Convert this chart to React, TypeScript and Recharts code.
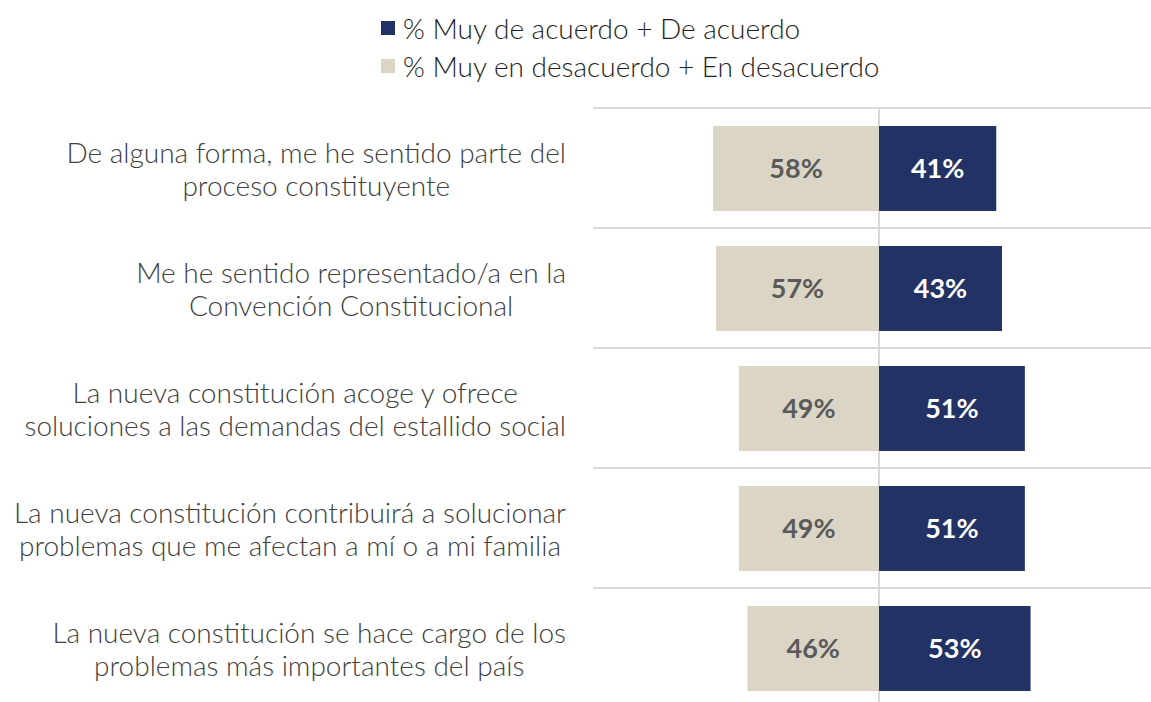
import React from 'react';
import { BarChart, Bar, XAxis, YAxis, LabelList, Legend, CartesianGrid } from 'recharts';

// Statements (two lines each, centered block, right-aligned)
const CATEGORIES = [
  'De alguna forma, me he sentido parte del\nproceso constituyente',
  'Me he sentido representado/a en la\nConvención Constitucional',
  'La nueva constitución acoge y ofrece\nsoluciones a las demandas del estallido social',
  'La nueva constitución contribuirá a solucionar\nproblemas que me afectan a mí o a mi familia',
  'La nueva constitución se hace cargo de los\nproblemas más importantes del país',
];

// % Muy de acuerdo + De acuerdo
const AGREE = [41, 43, 51, 51, 53];
// % Muy en desacuerdo + En desacuerdo
const DISAGREE = [58, 57, 49, 49, 46];

const X_DOMAIN: [number, number] = [-100, 100];

const NAVY = '#233264';
const BEIGE = '#DAD5C4';
const GRID = '#D9D9D9';
const FONT = 'Lato, "Noto Sans", sans-serif';

const data = CATEGORIES.map((name, i) => ({
  name,
  agree: AGREE[i],
  disagree: -DISAGREE[i],
}));

let ctx: CanvasRenderingContext2D | null = null;
const measure = (text: string, font: string) => {
  if (!ctx) ctx = document.createElement('canvas').getContext('2d');
  if (!ctx) return text.length * 12;
  ctx.font = font;
  return ctx.measureText(text).width;
};

const CategoryTick = ({ x, y, payload }: { x: number; y: number; payload: { value: string } }) => {
  const lines = String(payload.value).split('\n');
  const font = `300 28px ${FONT}`;
  const maxW = Math.max(...lines.map((l) => measure(l, font)));
  const cx = x - maxW / 2;
  const lineH = 33;
  const startY = y - ((lines.length - 1) * lineH) / 2;
  return (
    <text textAnchor="middle" fill="#404040" fontSize={28} fontWeight={300} fontFamily={FONT}>
      {lines.map((l, i) => (
        <tspan key={i} x={cx} y={startY + i * lineH} dominantBaseline="central">
          {l}
        </tspan>
      ))}
    </text>
  );
};

const renderLegend = (props: any) => {
  const items = props.payload || [];
  return (
    <div style={{ fontFamily: FONT, fontSize: 28, fontWeight: 300, color: '#1f1f1f' }}>
      {items.map((entry: any, index: number) => (
        <div key={`legend-${index}`} style={{ display: 'flex', alignItems: 'center', height: 38 }}>
          <span style={{ width: 14, height: 14, backgroundColor: entry.color, marginRight: 8, flexShrink: 0 }} />
          <span>{entry.value}</span>
        </div>
      ))}
    </div>
  );
};

// separator lines between rows, taken from the plot box
const rowBoundaries = ({ offset }: any) => {
  const n = CATEGORIES.length;
  return Array.from({ length: n + 1 }, (_, i) => offset.top + (offset.height * i) / n);
};

// center line at zero
const zeroLine = ({ xAxis, offset }: any) => {
  if (xAxis && typeof xAxis.scale === 'function') return [xAxis.scale(0)];
  const [lo, hi] = X_DOMAIN;
  return [offset.left + (offset.width * (0 - lo)) / (hi - lo)];
};

export default function App() {
  return (
    <div
      style={{
        position: 'absolute',
        left: 0,
        top: 0,
        width: 1151,
        height: 702,
        overflow: 'hidden',
        background: '#fff',
      }}
    >
      <BarChart
        width={1170}
        height={720}
        data={data}
        layout="vertical"
        stackOffset="sign"
        barSize={85}
        margin={{ top: 108, right: 5, left: 0, bottom: 12 }}
      >
        <CartesianGrid
          stroke={GRID}
          strokeWidth={2}
          horizontalCoordinatesGenerator={rowBoundaries}
          verticalCoordinatesGenerator={zeroLine}
        />
        <XAxis type="number" domain={X_DOMAIN} hide />
        <YAxis
          type="category"
          dataKey="name"
          width={593}
          axisLine={false}
          tickLine={false}
          tickSize={0}
          tickMargin={27}
          tick={CategoryTick as any}
          interval={0}
        />
        <Legend
          layout="vertical"
          align="center"
          verticalAlign="middle"
          content={renderLegend}
          wrapperStyle={{ top: 9, left: 381, width: 700 }}
        />
        <Bar
          dataKey="agree"
          name="% Muy de acuerdo + De acuerdo"
          stackId="s"
          fill={NAVY}
          isAnimationActive={false}
        >
          <LabelList
            dataKey="agree"
            position="center"
            fill="#ffffff"
            fontSize={27}
            fontWeight={700}
            fontFamily={FONT}
            formatter={(v: any) => `${Math.abs(Number(v))}%`}
          />
        </Bar>
        <Bar
          dataKey="disagree"
          name="% Muy en desacuerdo + En desacuerdo"
          stackId="s"
          fill={BEIGE}
          isAnimationActive={false}
        >
          <LabelList
            dataKey="disagree"
            position="center"
            fill="#5A5A5A"
            fontSize={27}
            fontWeight={700}
            fontFamily={FONT}
            formatter={(v: any) => `${Math.abs(Number(v))}%`}
          />
        </Bar>
      </BarChart>
    </div>
  );
}
